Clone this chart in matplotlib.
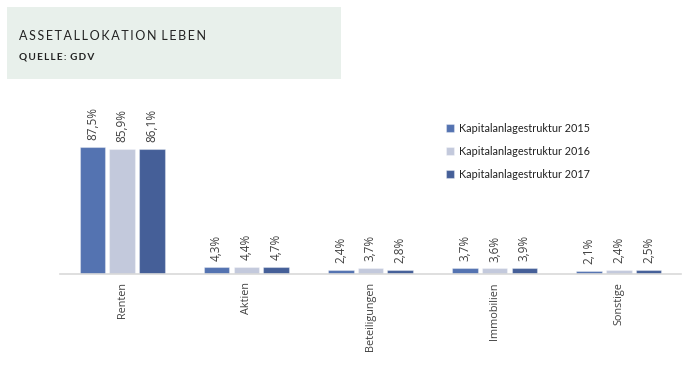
import numpy as np
import matplotlib.pyplot as plt
from matplotlib.patches import Rectangle

categories = ["Renten", "Aktien", "Beteiligungen", "Immobilien", "Sonstige"]
series_names = ["Kapitalanlagestruktur 2015", "Kapitalanlagestruktur 2016", "Kapitalanlagestruktur 2017"]
values_2015 = [87.5, 4.3, 2.4, 3.7, 2.1]
values_2016 = [85.9, 4.4, 3.7, 3.6, 2.4]
values_2017 = [86.1, 4.7, 2.8, 3.9, 2.5]
series_values = [values_2015, values_2016, values_2017]
colors = ["#5473b1", "#c3c9dc", "#455f98"]

title = "ASSETALLOKATION LEBEN"
subtitle = "QUELLE: GDV"


def spaced(s, gap=" \u2009"):
    # fake letter spacing with thin spaces
    return gap.join("\u2009".join(w) for w in s.split(" "))


W, H = 700, 365
fig = plt.figure(figsize=(W / 100, H / 100), dpi=100)

# header box
fig.patches.append(Rectangle((7 / W, 1 - 79 / H), 334 / W, 72 / H, transform=fig.transFigure,
                             facecolor="#e8f0eb", edgecolor="none", zorder=0))
fig.text(19 / W, 1 - 35.5 / H, spaced(title),
         fontsize=9.0, family=["Lato", "DejaVu Sans"], color="#222222", va="center")
fig.text(19 / W, 1 - 57 / H, spaced(subtitle, " \u2009"), fontsize=7.2,
         family=["Lato", "DejaVu Sans"], fontweight="bold", color="#222222", va="center")

# axes: baseline at y=273.7 px, x from 60 to 681 px
ax = fig.add_axes([60 / W, 1 - 273.7 / H, 621 / W, 144.9 / H])
ax.set_xlim(-0.5, len(categories) - 0.5)
ax.set_ylim(0, 100)

x = np.arange(len(categories))
width = 0.205
step = 0.239
for i, (vals, col, name) in enumerate(zip(series_values, colors, series_names)):
    pos = x + (i - 1) * step
    bars = ax.bar(pos, vals, width=width, color=col, edgecolor=(1, 1, 1, 0.35), linewidth=0.8,
                  label=name, zorder=2)
    for b, v in zip(bars, vals):
        ax.annotate(f"{v:.1f}%".replace(".", ","), (b.get_x() + b.get_width() / 2, v),
                    xytext=(0, 5), textcoords="offset points", rotation=90,
                    ha="center", va="bottom", fontsize=8.5, color="#404040",
                    family=["Open Sans", "DejaVu Sans"])

ax.set_xticks(x)
ax.set_xticklabels(categories, rotation=90, fontsize=7.8, color="#404040",
                   family=["Open Sans", "DejaVu Sans"], va="top")
ax.tick_params(axis="x", length=0, pad=6)
ax.set_yticks([])
for s in ["top", "right", "left"]:
    ax.spines[s].set_visible(False)
ax.spines["bottom"].set_color("#d9d9d9")
ax.spines["bottom"].set_linewidth(1.2)
ax.patch.set_alpha(0)

leg = fig.legend(loc="upper left", bbox_to_anchor=(436 / W, 1 - 113 / H), frameon=False,
                 prop={"family": ["Lato", "DejaVu Sans"], "size": 7.8}, handlelength=0.75,
                 handleheight=0.75, handletextpad=0.45, labelspacing=1.1, labelcolor="#222222")

fig.savefig("out.png", dpi=100)
